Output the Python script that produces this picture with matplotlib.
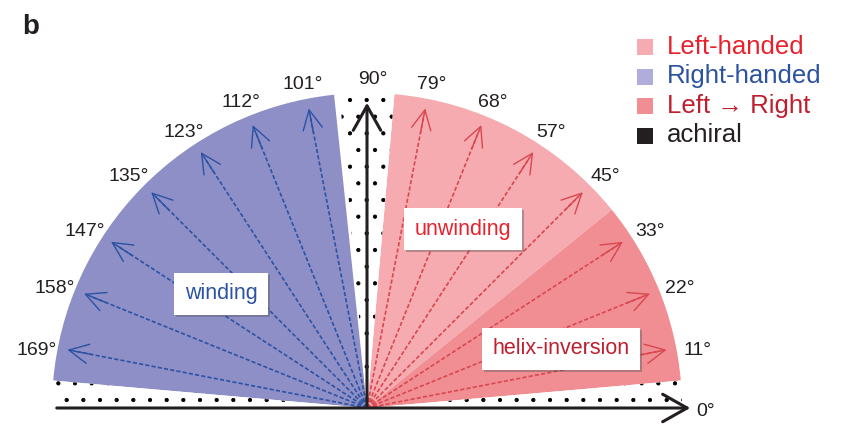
import numpy as np
import matplotlib.pyplot as plt
from matplotlib.patches import Wedge
import matplotlib.patheffects as pe

plt.rcParams['font.family'] = ['Liberation Sans', 'DejaVu Sans']

# arrow angles (degrees)
red_angles = [11, 22, 33, 45, 57, 68, 79]
blue_angles = [101, 112, 123, 135, 147, 158, 169]

# coloured sectors: (theta1, theta2, colour)
sector_t1 = [96, 39, 5]
sector_t2 = [175, 85, 39]
sector_col = ['#8f8fc7', '#f5abb0', '#f18e93']
# achiral wedges
achiral_t1 = [0, 85, 175]
achiral_t2 = [5, 95, 180]

legend_labels = ['Left-handed', 'Right-handed', 'Left \u2192 Right', 'achiral']
legend_sq = ['#f5abb0', '#b1addb', '#f18e93', '#231f20']
legend_txt = ['#e8212d', '#2b52a3', '#be1e2d', '#231f20']

R = 315
R_arrow = 308
R_label = 337

fig = plt.figure(figsize=(8.43, 4.26), dpi=100)
ax = fig.add_axes([0, 0, 1, 1])
ax.set_xlim(-367, 476)
ax.set_ylim(-18, 408)
ax.axis('off')

for t1, t2, c in zip(sector_t1, sector_t2, sector_col):
    ax.add_patch(Wedge((0, 0), R, t1, t2, facecolor=c, edgecolor='none', zorder=1))

plt.rcParams['hatch.linewidth'] = 0.6
for t1, t2 in zip(achiral_t1, achiral_t2):
    ax.add_patch(Wedge((0, 0), R, t1, t2, facecolor='white', edgecolor='black',
                       linewidth=0, hatch='.', zorder=1))

def ray(a, col):
    th = np.deg2rad(a)
    x, y = R_arrow * np.cos(th), R_arrow * np.sin(th)
    ax.plot([0, x * 0.97], [0, y * 0.97], ls=(0, (2.5, 1.3)), color=col, lw=1.2, zorder=3)
    ax.annotate('', xy=(x, y), xytext=(0.9 * x, 0.9 * y),
                arrowprops=dict(arrowstyle='->,head_length=0.7,head_width=0.35',
                                mutation_scale=20, color=col, lw=1.0), zorder=3)
    lx, ly = R_label * np.cos(th), R_label * np.sin(th) - 7
    ax.text(lx, ly, f'{a}\u00b0', ha='center', va='center', fontsize=14, color='#231f20')

for a in red_angles:
    ray(a, '#d9474f')
for a in blue_angles:
    ray(a, '#2b52a3')

# axes arrows
ax.annotate('', xy=(326, 0), xytext=(-313, 0),
            arrowprops=dict(arrowstyle='->,head_length=0.8,head_width=0.45',
                            mutation_scale=22, color='#231f20', lw=2.2), zorder=4)
ax.annotate('', xy=(0, 308), xytext=(0, -2),
            arrowprops=dict(arrowstyle='->,head_length=0.8,head_width=0.45',
                            mutation_scale=22, color='#231f20', lw=2.2), zorder=4)
ax.text(339, -3, '0\u00b0', ha='center', va='center', fontsize=14, color='#231f20')
ax.text(6, 329, '90\u00b0', ha='center', va='center', fontsize=14, color='#231f20')

# labelled boxes
boxes = [('winding', -146, 114, '#2b52a3'),
         ('unwinding', 96, 179, '#e8212d'),
         ('helix-inversion', 194, 59, '#be1e2d')]
for txt, x, y, col in boxes:
    t = ax.text(x, y, txt, ha='center', va='center', fontsize=15.5, color=col, zorder=5,
                bbox=dict(boxstyle='square,pad=0.5', facecolor='white', edgecolor='none'))
    t.get_bbox_patch().set_path_effects([pe.withSimplePatchShadow(offset=(1.5, -1.5),
                                                                  shadow_rgbFace='#555555', alpha=0.4),
                                         pe.Normal()])

# legend
for i, (lab, sq, tc) in enumerate(zip(legend_labels, legend_sq, legend_txt)):
    y = 361 - i * 29.5
    ax.scatter([278], [y], marker='s', s=130, color=sq, zorder=5, linewidths=0)
    ax.text(300, y, lab, ha='left', va='center', fontsize=18.5, color=tc)

ax.text(-345, 381, 'b', fontsize=20, fontweight='bold', ha='left', va='center', color='#231f20')

fig.savefig('out.png', dpi=100)
